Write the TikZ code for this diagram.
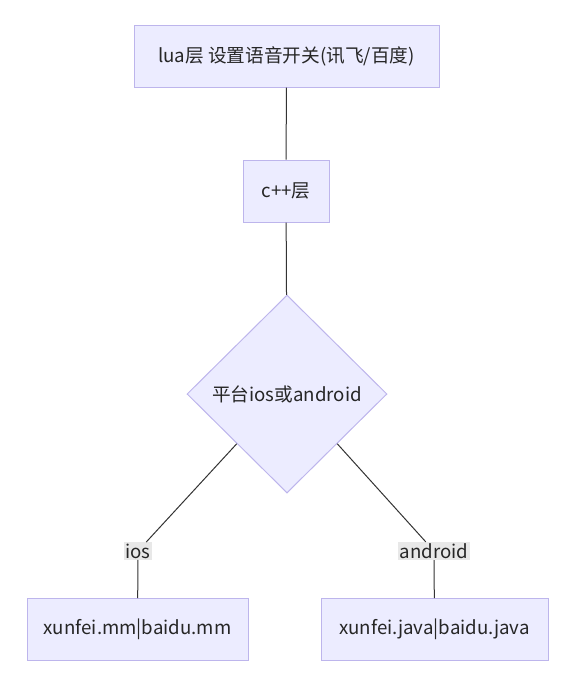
\documentclass[tikz,border=0pt]{standalone}
\usepackage{fontspec}
\setmainfont{Noto Sans CJK SC}
\usetikzlibrary{shapes.geometric}
\definecolor{boxfill}{HTML}{ECECFF}
\definecolor{boxline}{HTML}{BDB5EC}
\definecolor{edgeline}{HTML}{333333}
\definecolor{labelfill}{HTML}{E8E8E8}

\begin{document}
\begin{tikzpicture}[
  x=0.75pt, y=-0.75pt,
  every node/.style={font=\fontsize{14pt}{16pt}\selectfont, text=black!85},
  stage/.style={draw=boxline,fill=boxfill,line width=0.75pt,minimum height=46.5pt,inner sep=0pt},
  choice/.style={diamond,draw=boxline,fill=boxfill,line width=0.75pt,minimum width=150pt,minimum height=148.5pt,inner sep=0pt},
  branch/.style={fill=labelfill,inner sep=1pt},
  link/.style={draw=edgeline,line width=0.75pt}
]
  \useasboundingbox (0,0) rectangle (588,686);

  \node[stage,minimum width=228.75pt] (lua) at (286.5,56) {lua层 设置语音开关(讯飞/百度)};
  \node[stage,minimum width=64.5pt] (cpp) at (286,191) {c++层};
  \node[choice] (plat) at (287,394) {平台ios或android};

  \node[branch] (ios) at (138,551) {ios};
  \node[branch] (android) at (434,551) {android};

  \node[stage,minimum width=165.75pt] (mm) at (137.5,629.5) {xunfei.mm|baidu.mm};
  \node[stage,minimum width=170.25pt] (java) at (434.5,629.5) {xunfei.java|baidu.java};

  \draw[link] (lua) -- (cpp);
  \draw[link] (cpp) -- (plat);
  \draw[link] (plat.south west) -- (ios) -- (mm);
  \draw[link] (plat.south east) -- (android) -- (java);
\end{tikzpicture}
\end{document}
